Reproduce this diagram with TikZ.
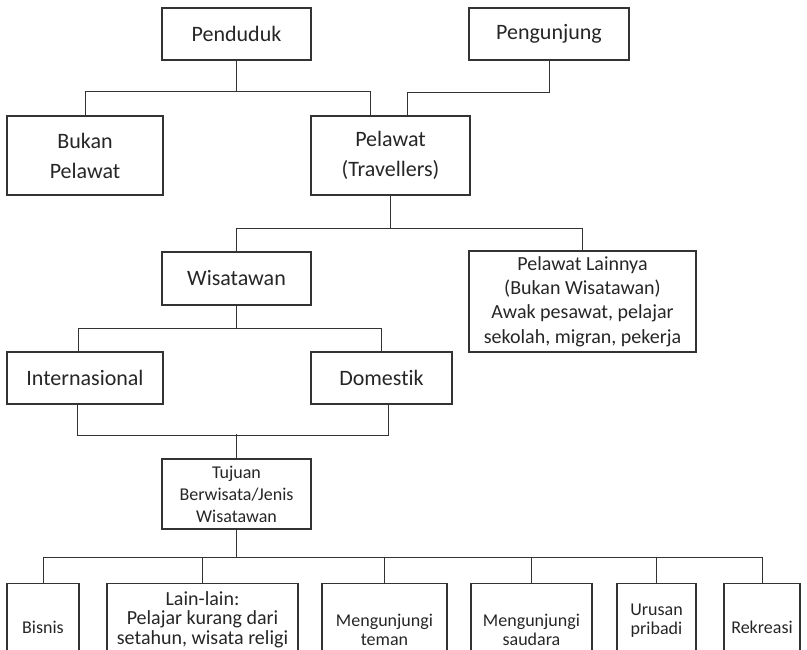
\documentclass[tikz,border=0pt]{standalone}
\usepackage{fontspec}
\setmainfont{Carlito}[Ligatures=NoCommon]

\begin{document}
\begin{tikzpicture}[x=1pt, y=-1pt,
    box/.style={draw=black!80, line width=1.1pt, text=black!85, align=center,
        inner sep=0pt, font=\fontsize{22}{30}\selectfont},
    smallbox/.style={box, font=\fontsize{18}{22}\selectfont},
    tallbox/.style={box, anchor=north, font=\fontsize{18}{19}\selectfont},
    link/.style={draw=black!80, line width=1pt}]
    \useasboundingbox (0,0) rectangle (807,650);
    \clip (0,0) rectangle (807,650);

    % First level
    \node [box, minimum width=149pt, minimum height=52pt] (penduduk) at (236.5,34) {Penduduk};
    \node [box, minimum width=160pt, minimum height=52pt] (pengunjung) at (549,34) {Pengunjung};

    % Second level
    \node [box, minimum width=156pt, minimum height=79pt] (bukan) at (85,155.5) {Bukan\\Pelawat};
    \node [box, minimum width=159pt, minimum height=79pt] (pelawat) at (390.5,155.5) {Pelawat\\(Travellers)};
    \draw [link] (penduduk.south) -- ++(0,31) coordinate (j1);
    \draw [link] (j1) -| (bukan.north);
    \draw [link] (j1) -| ([xshift=-20.5pt]pelawat.north);
    \draw [link] (pengunjung.south) -- ++(0,32) -| ([xshift=16.5pt]pelawat.north);

    % Third level
    \node [box, minimum width=149pt, minimum height=53pt] (wisatawan) at (236.5,278.5) {Wisatawan};
    \node [box, minimum width=227pt, minimum height=101pt, font=\fontsize{20}{24.3}\selectfont]
        (lainnya) at (582.5,301.5) {Pelawat Lainnya\\(Bukan Wisatawan)\\Awak pesawat, pelajar\\sekolah, migran, pekerja};
    \draw [link] (pelawat.south) -- ++(0,33) coordinate (j2);
    \draw [link] (j2) -| (wisatawan.north);
    \draw [link] (j2) -| (lainnya.north);

    % Fourth level
    \node [box, minimum width=156pt, minimum height=52pt] (intl) at (85,378) {Internasional};
    \node [box, minimum width=141pt, minimum height=52pt] (domestik) at (381.5,378) {Domestik};
    \draw [link] (wisatawan.south) -- ++(0,23) coordinate (j3);
    \draw [link] (j3) -| ([xshift=-7pt]intl.north);
    \draw [link] (j3) -| (domestik.north);

    % Purpose of travel
    \node [smallbox, minimum width=149pt, minimum height=70pt] (tujuan) at (236.5,494) {Tujuan\\Berwisata/Jenis\\Wisatawan};
    \draw [link] ([xshift=-8pt]intl.south) -- ++(0,31) -| ([xshift=6.5pt]domestik.south);
    \draw [link] (tujuan.north) -- ++(0,-24);

    % Last level (cut off at the bottom)
    \node [tallbox, minimum width=72pt, minimum height=88pt] (bisnis) at (43,583) {Bisnis};
    \node [tallbox, minimum width=191pt, minimum height=72pt, font=\fontsize{20}{19.5}\selectfont]
        (lain) at (202.5,583) {Lain-lain:\\Pelajar kurang dari\\setahun, wisata religi};
    \node [tallbox, minimum width=125pt, minimum height=92pt] (teman) at (384.5,583) {Mengunjungi\\teman};
    \node [tallbox, minimum width=121pt, minimum height=92pt] (saudara) at (531.5,583) {Mengunjungi\\saudara};
    \node [tallbox, minimum width=79pt, minimum height=74pt] (urusan) at (656.5,583) {Urusan\\pribadi};
    \node [tallbox, minimum width=76pt, minimum height=88pt] (rekreasi) at (762,583) {Rekreasi};
    \draw [link] (tujuan.south) -- ++(0,28) coordinate (j5);
    \foreach \n in {bisnis, lain, teman, saudara, urusan, rekreasi}
    {
        \draw [link] (j5) -| (\n.north);
    }
\end{tikzpicture}
\end{document}
